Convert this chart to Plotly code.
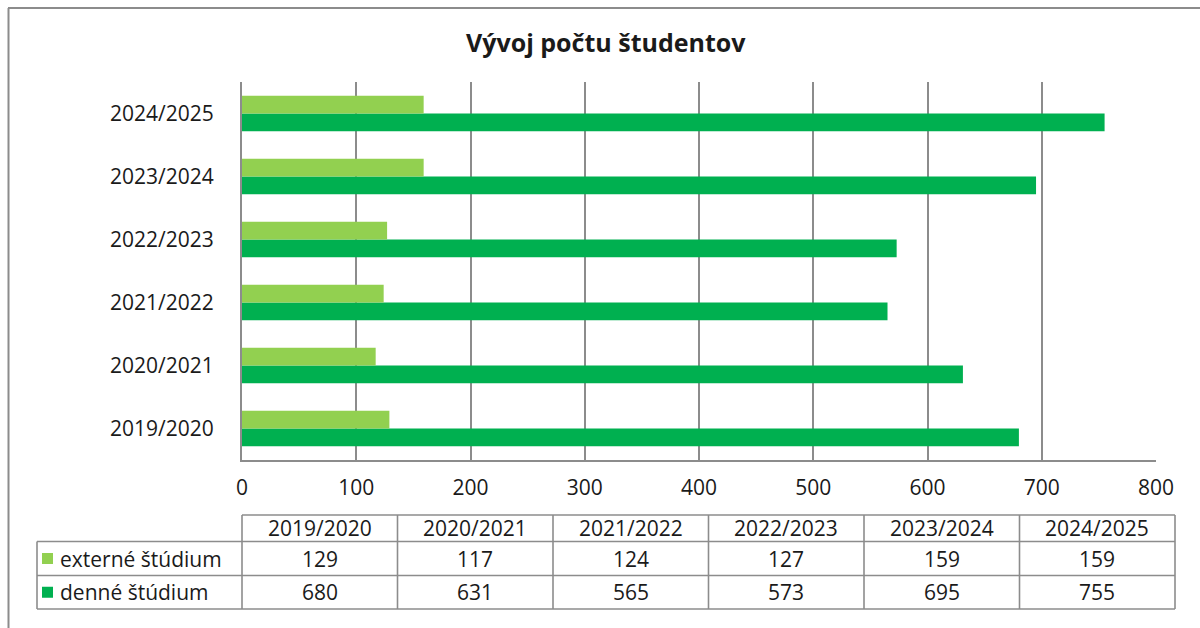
import plotly.graph_objects as go

title = "Vývoj počtu študentov"
years = ["2019/2020", "2020/2021", "2021/2022", "2022/2023", "2023/2024", "2024/2025"]
externe = [129, 117, 124, 127, 159, 159]
denne = [680, 631, 565, 573, 695, 755]
series_names = ["externé štúdium", "denné štúdium"]
colors = ["#92D050", "#00B050"]
x_ticks = [0, 100, 200, 300, 400, 500, 600, 700, 800]

W, H = 1200, 628
FONT = "Open Sans"
GRID = "#8C8C8C"
TXT = "#1a1a1a"
FS = 21


def px(x):
    return x / W


def py(y):
    return 1 - y / H


fig = go.Figure()
fig.add_trace(go.Bar(y=years, x=denne, orientation="h", name=series_names[1],
                     marker=dict(color=colors[1], line=dict(width=0))))
fig.add_trace(go.Bar(y=years, x=externe, orientation="h", name=series_names[0],
                     marker=dict(color=colors[0], line=dict(width=0))))

shapes = []
annotations = []

# outer chart frame (top and left edges visible)
shapes.append(dict(type="line", xref="paper", yref="paper", x0=px(8), x1=px(1200), y0=py(8), y1=py(8),
                   line=dict(color=GRID, width=2)))
shapes.append(dict(type="line", xref="paper", yref="paper", x0=px(8.5), x1=px(8.5), y0=py(8), y1=py(628),
                   line=dict(color=GRID, width=2)))

# data table
t_left, t_first, t_right = 37, 242, 1175
row_y = [515, 541.5, 575.5, 609]
ncol = len(years)
col_w = (t_right - t_first) / ncol
col_x = [t_first + i * col_w for i in range(ncol + 1)]
line = dict(color=GRID, width=1.6)
shapes.append(dict(type="line", xref="paper", yref="paper", x0=px(t_first), x1=px(t_right),
                   y0=py(row_y[0]), y1=py(row_y[0]), line=line))
for yy in row_y[1:]:
    shapes.append(dict(type="line", xref="paper", yref="paper", x0=px(t_left), x1=px(t_right),
                       y0=py(yy), y1=py(yy), line=line))
shapes.append(dict(type="line", xref="paper", yref="paper", x0=px(t_left), x1=px(t_left),
                   y0=py(row_y[1]), y1=py(row_y[3]), line=line))
for xx in col_x:
    shapes.append(dict(type="line", xref="paper", yref="paper", x0=px(xx), x1=px(xx),
                       y0=py(row_y[0]), y1=py(row_y[3]), line=line))

tfont = dict(family=FONT, size=FS, color=TXT)
for i, yr in enumerate(years):
    cx = (col_x[i] + col_x[i + 1]) / 2
    annotations.append(dict(xref="paper", yref="paper", x=px(cx), y=py((row_y[0] + row_y[1]) / 2),
                            text=yr, showarrow=False, font=tfont, xanchor="center", yanchor="middle"))
    annotations.append(dict(xref="paper", yref="paper", x=px(cx), y=py((row_y[1] + row_y[2]) / 2),
                            text=str(externe[i]), showarrow=False, font=tfont, xanchor="center", yanchor="middle"))
    annotations.append(dict(xref="paper", yref="paper", x=px(cx), y=py((row_y[2] + row_y[3]) / 2),
                            text=str(denne[i]), showarrow=False, font=tfont, xanchor="center", yanchor="middle"))

for r, (name, col) in enumerate(zip(series_names, colors)):
    cy = (row_y[1 + r] + row_y[2 + r]) / 2
    shapes.append(dict(type="rect", xref="paper", yref="paper", x0=px(42), x1=px(53),
                       y0=py(cy - 5.5), y1=py(cy + 5.5), fillcolor=col, line=dict(width=0)))
    annotations.append(dict(xref="paper", yref="paper", x=px(58), y=py(cy), text=name,
                            showarrow=False, font=tfont, xanchor="left", yanchor="middle"))

# title
annotations.append(dict(xref="paper", yref="paper", x=px(606), y=py(42), text="<b>" + title + "</b>",
                        showarrow=False, font=dict(family=FONT, size=25, color=TXT),
                        xanchor="center", yanchor="middle"))

fig.update_layout(
    width=W, height=H,
    margin=dict(l=0, r=0, t=0, b=0, pad=0, autoexpand=False),
    paper_bgcolor="white", plot_bgcolor="white",
    barmode="group", bargap=0.44, bargroupgap=0,
    showlegend=False,
    font=dict(family=FONT, size=FS, color=TXT),
    shapes=shapes, annotations=annotations,
    xaxis=dict(domain=[px(242), px(1156)], range=[0, 800], tickvals=x_ticks, automargin=False,
               showgrid=True, gridcolor=GRID, gridwidth=2, zeroline=False,
               showline=True, linecolor=GRID, linewidth=2, ticks="",
               ticklabelstandoff=8, tickfont=dict(family=FONT, size=FS, color=TXT)),
    yaxis=dict(domain=[py(460), py(82)], range=[-0.5, 5.5], type="category", automargin=False,
               categoryorder="array", categoryarray=years,
               showgrid=False, zeroline=False, showline=True, linecolor=GRID, linewidth=2,
               ticks="", ticklabelstandoff=22, tickfont=dict(family=FONT, size=FS, color=TXT)),
)

page_css = ("document.documentElement.style.margin='0';document.documentElement.style.overflow='hidden';"
            "document.body.style.margin='0';document.body.style.overflow='hidden';")
fig.write_html("out.html", post_script=page_css, config={"displayModeBar": False})
